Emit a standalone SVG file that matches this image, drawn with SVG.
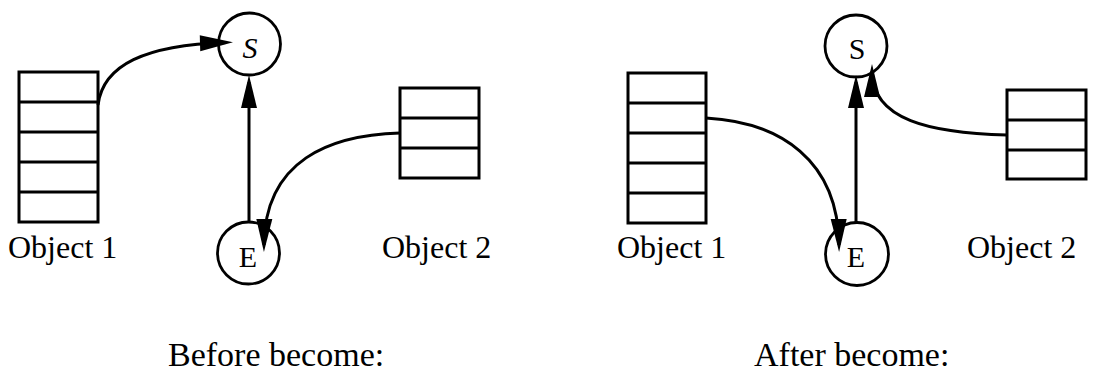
<svg xmlns="http://www.w3.org/2000/svg" width="1095" height="374" viewBox="0 0 1095 374">
<style>
.box{fill:none;stroke:#000;stroke-width:3}
.div{stroke:#000;stroke-width:3}
.circ{fill:none;stroke:#000;stroke-width:2.8}
.edge{fill:none;stroke:#000;stroke-width:3;marker-end:url(#arr)}
.lbl{font-family:"Liberation Serif","Times New Roman",serif;font-size:32px;fill:#000}
.node{font-family:"Liberation Serif","Times New Roman",serif;font-size:30px;fill:#000;text-anchor:middle}
.cap{font-family:"Liberation Serif","Times New Roman",serif;font-size:34px;fill:#000}
</style>
<defs>
<marker id="arr" markerUnits="userSpaceOnUse" markerWidth="40" markerHeight="20" refX="26" refY="8" orient="auto" overflow="visible">
<path d="M0,0 L33,8 L0,16 z" fill="#000"/>
</marker>
</defs>
<rect width="1095" height="374" fill="#fff"/>

<g id="before-object1">
<rect class="box" x="19" y="72" width="79" height="150"/>
<path class="div" d="M19,102H98M19,132H98M19,162H98M19,192H98"/>
<text class="lbl" x="8" y="258">Object 1</text>
</g>
<g id="before-S">
<circle class="circ" cx="249.5" cy="44" r="31"/>
<text class="node" x="250" y="58" font-style="italic">S</text>
</g>
<g id="before-E">
<circle class="circ" cx="248.5" cy="253" r="31"/>
<text class="node" x="248" y="267">E</text>
</g>
<g id="before-object2">
<rect class="box" x="400" y="88" width="79" height="90"/>
<path class="div" d="M400,118H479M400,148H479"/>
<text class="lbl" x="382" y="258">Object 2</text>
</g>
<text class="cap" x="168" y="366">Before become:</text>

<g id="after-object1">
<rect class="box" x="628" y="73" width="78" height="150"/>
<path class="div" d="M628,103H706M628,133H706M628,163H706M628,193H706"/>
<text class="lbl" x="617" y="258">Object 1</text>
</g>
<g id="after-S">
<circle class="circ" cx="856" cy="46" r="31"/>
<text class="node" x="857" y="59">S</text>
</g>
<g id="after-E">
<circle class="circ" cx="857" cy="254" r="31.5"/>
<text class="node" x="856" y="267">E</text>
</g>
<g id="after-object2">
<rect class="box" x="1007" y="90" width="79" height="89"/>
<path class="div" d="M1007,120H1086M1007,150H1086"/>
<text class="lbl" x="967" y="258">Object 2</text>
</g>
<text class="cap" x="754" y="366">After become:</text>

<g id="connectors">
<path class="edge" d="M98,105 C103,65 145,45 226,42.5"/>
<path class="edge" d="M249,222 L249,82"/>
<path class="edge" d="M400,133 C330,135 265,160 264,245"/>
<path class="edge" d="M706,118 C780,122 838,160 839,245"/>
<path class="edge" d="M856,222 L856,82"/>
<path class="edge" d="M1007,135 C930,133 872,120 872,71"/>
</g>
</svg>
